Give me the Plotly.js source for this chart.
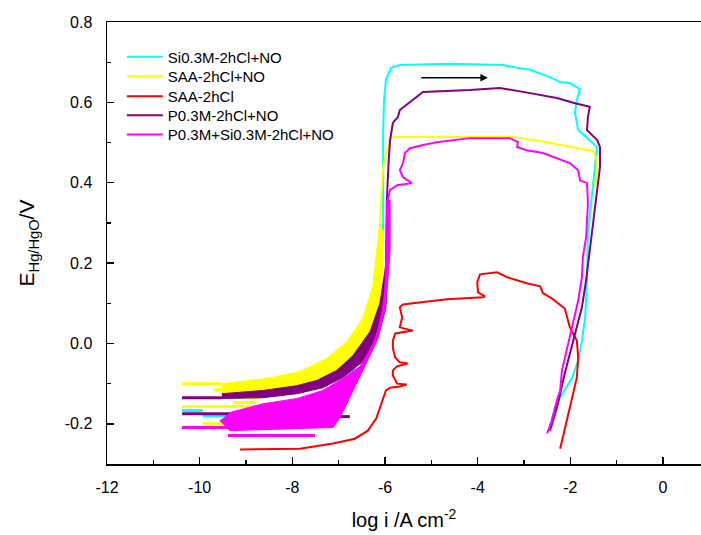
<!DOCTYPE html>
<html>
<head>
<meta charset="utf-8">
<script src="https://cdn.plot.ly/plotly-3.0.1.min.js"></script>
<style>html,body{margin:0;padding:0;background:#fff}#chart{width:701px;height:535px}</style>
</head>
<body>
<div id="chart"></div>
<script>
// ---------- DATA (log i / A cm^-2 , E / V) ----------
const seriesNames = ['Si0.3M-2hCl+NO', 'SAA-2hCl+NO', 'SAA-2hCl', 'P0.3M-2hCl+NO', 'P0.3M+Si0.3M-2hCl+NO'];
const seriesColors = ['#00FFFF', '#FFFF00', '#FF0000', '#800080', '#FF00FF'];

// Si0.3M-2hCl+NO (cyan)
const cyanX = [-9.93,-8.70,-7.84,-7.19,-6.76,-6.43,-6.26,-6.15,-6.09,-6.04,-6.04,-6.04,-6.02,-5.98,-5.87,-5.68,-4.60,-3.45,-3.15,-2.87,-2.44,-2.22,-2.01,-1.79,-1.86,-1.90,-1.83,-1.58,-1.42,-1.47,-1.53,-1.58,-1.62,-1.64,-1.68,-1.75,-1.83,-1.96,-2.22,-2.37,-2.44];
const cyanY = [-0.180,-0.180,-0.162,-0.130,-0.080,-0.017,0.050,0.107,0.182,0.282,0.406,0.531,0.606,0.656,0.686,0.693,0.696,0.693,0.686,0.681,0.663,0.651,0.648,0.633,0.606,0.574,0.531,0.506,0.489,0.439,0.374,0.314,0.274,0.165,0.065,0.007,-0.042,-0.085,-0.135,-0.175,-0.209];
const cyanNoiseX = [-10.38,-9.93,null,-9.93,-8.70,null,-9.56,-9.19];
const cyanNoiseY = [-0.167,-0.167,null,-0.180,-0.180,null,-0.192,-0.192];

// SAA-2hCl+NO (yellow)
const yellowX = [-9.52,-8.55,-7.84,-7.25,-6.82,-6.48,-6.26,-6.15,-6.11,-6.09,-6.04,-5.96,-5.89,-5.83,-4.17,-3.24,-2.65,-2.01,-1.51,-1.42,-1.42,-1.47];
const yellowY = [-0.117,-0.112,-0.097,-0.067,-0.030,0.020,0.095,0.182,0.282,0.357,0.439,0.481,0.506,0.514,0.514,0.514,0.504,0.491,0.479,0.456,0.431,0.389];
const yellowBandX = [-9.52,-8.55,-7.84,-7.25,-6.82,-6.48,-6.26,-6.17,-6.13,-6.04,-6.04,-6.11,-6.26,-6.54,-6.97,-7.47,-8.12,-8.76,-9.52];
const yellowBandY = [-0.100,-0.087,-0.070,-0.037,0.005,0.062,0.145,0.232,0.282,0.282,0.190,0.107,0.040,-0.017,-0.060,-0.100,-0.125,-0.137,-0.137];
const yellowNoiseX = [-10.38,-9.52,null,-9.71,-8.85,null,-9.28,-8.76,null,-10.38,-8.76,null,-9.93,-8.63];
const yellowNoiseY = [-0.100,-0.100,null,-0.115,-0.115,null,-0.147,-0.147,null,-0.157,-0.157,null,-0.200,-0.200];

// SAA-2hCl (red)
const redX = [-9.13,-7.84,-7.12,-6.65,-6.37,-6.19,-6.11,-6.04,-5.98,-5.89,-5.68,-5.53,-5.74,-5.83,-5.83,-5.74,-5.51,-5.68,-5.78,-5.83,-5.83,-5.78,-5.40,-5.68,-5.63,-5.68,-5.61,-5.40,-4.66,-3.89,-3.84,-3.99,-4.01,-3.95,-3.58,-3.37,-2.94,-2.65,-2.59,-2.40,-2.12,-2.07,-2.01,-1.86,-1.83,-1.86,-2.01,-2.22];
const redY = [-0.264,-0.262,-0.249,-0.237,-0.217,-0.187,-0.160,-0.137,-0.117,-0.110,-0.107,-0.102,-0.100,-0.080,-0.067,-0.057,-0.050,-0.047,-0.035,-0.012,0.007,0.025,0.032,0.040,0.065,0.090,0.097,0.100,0.110,0.115,0.117,0.127,0.152,0.172,0.177,0.165,0.150,0.142,0.125,0.112,0.087,0.065,0.040,0.007,-0.035,-0.085,-0.160,-0.262];

// P0.3M-2hCl+NO (purple)
const purpleX = [-9.52,-8.63,-7.90,-7.40,-6.97,-6.60,-6.26,-6.07,-5.98,-5.96,-5.96,-5.92,-5.89,-5.83,-5.72,-5.68,-5.53,-5.40,-5.18,-4.17,-3.52,-2.87,-2.29,-1.94,-1.58,-1.62,-1.64,-1.42,-1.36,-1.36,-1.42,-1.47,-1.53,-1.58,-1.66,-1.75,-1.94,-2.12,-2.29,-2.44];
const purpleY = [-0.130,-0.125,-0.115,-0.100,-0.075,-0.037,0.022,0.095,0.182,0.282,0.357,0.456,0.506,0.549,0.564,0.581,0.594,0.606,0.626,0.631,0.636,0.623,0.611,0.599,0.589,0.564,0.531,0.506,0.489,0.439,0.382,0.332,0.282,0.232,0.157,0.090,0.007,-0.075,-0.160,-0.217];
const purpleBandX = [-9.52,-8.63,-7.90,-7.47,-7.04,-6.69,-6.32,-6.11,-6.00,-5.96,-5.92,-5.94,-5.98,-6.15,-6.50,-6.91,-7.34,-7.90,-8.63,-9.52];
const purpleBandY = [-0.125,-0.117,-0.105,-0.092,-0.067,-0.030,0.030,0.100,0.182,0.232,0.232,0.182,0.090,0.015,-0.047,-0.085,-0.110,-0.125,-0.135,-0.137];
const purpleNoiseX = [-10.38,-9.52,null,-10.38,-8.63,null,-7.30,-6.76];
const purpleNoiseY = [-0.135,-0.135,null,-0.175,-0.175,null,-0.182,-0.182];

// P0.3M+Si0.3M-2hCl+NO (magenta)
const magentaX = [-9.35,-7.90,-7.19,-6.76,-6.43,-6.17,-6.02,-5.96,-5.94,-5.94,-5.89,-5.74,-5.42,-5.61,-5.68,-5.61,-5.57,-5.46,-5.18,-4.88,-4.17,-3.30,-3.13,-3.15,-2.94,-2.59,-2.01,-1.83,-1.79,-1.64,-1.62,-1.66,-1.73,-1.75,-1.83,-1.96,-2.07,-2.18,-2.22,-2.29,-2.40,-2.50];
const magentaY = [-0.192,-0.172,-0.142,-0.105,-0.047,0.020,0.095,0.182,0.282,0.357,0.382,0.394,0.399,0.414,0.431,0.449,0.474,0.486,0.494,0.501,0.511,0.511,0.501,0.489,0.481,0.474,0.449,0.431,0.406,0.399,0.349,0.264,0.214,0.165,0.107,0.040,-0.017,-0.067,-0.117,-0.142,-0.192,-0.224];
const magentaBandX = [-9.35,-8.63,-7.90,-7.34,-6.91,-6.54,-6.26,-6.09,-6.00,-5.98,-5.96,-5.89,-5.89,-5.92,-6.00,-6.17,-6.48,-6.76,-6.97,-7.12,-8.63,-9.35,-9.56];
const magentaBandY = [-0.172,-0.150,-0.137,-0.117,-0.087,-0.057,-0.005,0.057,0.132,0.232,0.357,0.357,0.232,0.182,0.082,0.007,-0.067,-0.135,-0.185,-0.209,-0.214,-0.217,-0.192];
const magentaNoiseX = [-10.38,-9.35,null,-9.39,-7.51];
const magentaNoiseY = [-0.209,-0.209,null,-0.229,-0.229];

const xTickVals = [-12,-10,-8,-6,-4,-2,0];
const xTickText = ['-12','-10','-8','-6','-4','-2','0'];
const yTickVals = [-0.2,0.0,0.2,0.4,0.6,0.8];
const yTickText = ['-0.2','0.0','0.2','0.4','0.6','0.8'];

// ---------- TRACES ----------
const FONT = 'Liberation Sans, Arial, sans-serif';
const legendIds = ['legend', 'legend2', 'legend3', 'legend4', 'legend5'];
function band(x, y, c, g) {
  return {x: x, y: y, type: 'scatter', mode: 'lines', fill: 'toself', fillcolor: c,
    line: {color: c, width: 1}, showlegend: false, legendgroup: g, hoverinfo: 'skip'};
}
function noise(x, y, c, g) {
  return {x: x, y: y, type: 'scatter', mode: 'lines', line: {color: c, width: 3},
    showlegend: false, legendgroup: g, hoverinfo: 'skip', connectgaps: false};
}
function main(x, y, i) {
  return {x: x, y: y, type: 'scatter', mode: 'lines', name: seriesNames[i],
    line: {color: seriesColors[i], width: 2}, legendgroup: 'g' + i, legend: legendIds[i]};
}

const traces = [
  noise(cyanNoiseX, cyanNoiseY, seriesColors[0], 'g0'),
  main(cyanX, cyanY, 0),
  band(yellowBandX, yellowBandY, seriesColors[1], 'g1'),
  noise(yellowNoiseX, yellowNoiseY, seriesColors[1], 'g1'),
  main(yellowX, yellowY, 1),
  main(redX, redY, 2),
  band(purpleBandX, purpleBandY, seriesColors[3], 'g3'),
  noise(purpleNoiseX, purpleNoiseY, seriesColors[3], 'g3'),
  main(purpleX, purpleY, 3),
  band(magentaBandX, magentaBandY, seriesColors[4], 'g4'),
  noise(magentaNoiseX, magentaNoiseY, seriesColors[4], 'g4'),
  main(magentaX, magentaY, 4)
];

function legendBox(yPos) {
  return {x: 0.025, y: yPos, xanchor: 'left', yanchor: 'top', bgcolor: 'rgba(0,0,0,0)',
    font: {family: FONT, size: 15, color: '#000'}, itemwidth: 36};
}

const layout = {
  width: 701, height: 535,
  margin: {l: 107, r: 0, t: 22, b: 71},
  paper_bgcolor: '#fff', plot_bgcolor: '#fff',
  font: {family: FONT, color: '#000', size: 16},
  showlegend: true,
  legend: legendBox(0.958),
  legend2: legendBox(0.914),
  legend3: legendBox(0.869),
  legend4: legendBox(0.826),
  legend5: legendBox(0.782),
  xaxis: {
    range: [-12, 0.82], tickmode: 'array', tickvals: xTickVals, ticktext: xTickText,
    ticks: 'inside', ticklen: 7, tickwidth: 1.5, tickcolor: '#000', ticklabelstandoff: 8,
    minor: {tickmode: 'linear', tick0: -12, dtick: 1, ticks: 'inside', ticklen: 4, tickwidth: 1.2, tickcolor: '#000', showgrid: false},
    showline: true, linewidth: 1.5, linecolor: '#000', mirror: true,
    showgrid: false, zeroline: false,
    tickfont: {family: FONT, size: 16, color: '#000'},
    title: {text: 'log i /A cm<sup>-2</sup>', font: {family: FONT, size: 20, color: '#000'}, standoff: 18}
  },
  yaxis: {
    range: [-0.3, 0.8], tickmode: 'array', tickvals: yTickVals, ticktext: yTickText,
    ticks: 'inside', ticklen: 7, tickwidth: 1.5, tickcolor: '#000', ticklabelstandoff: 10,
    minor: {tickmode: 'linear', tick0: -0.3, dtick: 0.1, ticks: 'inside', ticklen: 4, tickwidth: 1.2, tickcolor: '#000', showgrid: false},
    showline: true, linewidth: 1.5, linecolor: '#000', mirror: false,
    showgrid: false, zeroline: false,
    tickfont: {family: FONT, size: 16, color: '#000'},
    title: {text: 'E<sub>Hg/HgO</sub>/V', font: {family: FONT, size: 21, color: '#000'}, standoff: 24}
  },
  annotations: [{
    x: -3.78, y: 0.661, ax: -5.25, ay: 0.661, xref: 'x', yref: 'y', axref: 'x', ayref: 'y',
    text: '', showarrow: true, arrowhead: 2, arrowsize: 1, arrowwidth: 1.5, arrowcolor: '#000'
  }]
};

Plotly.newPlot('chart', traces, layout, {displayModeBar: false, staticPlot: true});
</script>
</body>
</html>
